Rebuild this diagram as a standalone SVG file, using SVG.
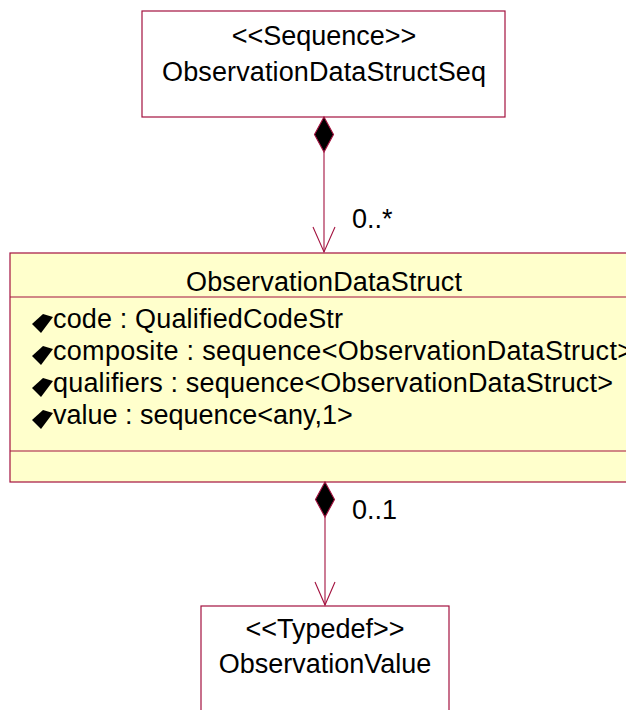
<svg xmlns="http://www.w3.org/2000/svg" width="626" height="710" viewBox="0 0 626 710">
<style>
.box{fill:#ffffff;stroke:#a3123f;stroke-width:1.2}
.cls{fill:#ffffcc;stroke:#a3123f;stroke-width:1.2}
.div{stroke:#a3123f;stroke-width:1.2}
text{font-family:"Liberation Sans",Arial,sans-serif;font-size:27px;fill:#000}
.c{text-anchor:middle}
.line{stroke:#a3123f;stroke-width:1.1;fill:none}
.dia{fill:#000;stroke:#a3123f;stroke-width:1.1}
.icon{fill:#000}
</style>
<rect width="626" height="710" fill="#ffffff"/>
<g id="ObservationDataStructSeq">
<rect class="box" x="142" y="11" width="363" height="106"/>
<text class="c" x="324" y="45">&lt;&lt;Sequence&gt;&gt;</text>
<text class="c" x="324" y="81" textLength="324" lengthAdjust="spacing">ObservationDataStructSeq</text>
</g>
<g id="ObservationDataStruct">
<rect class="cls" x="10" y="253" width="640" height="229"/>
<line class="div" x1="10" y1="297" x2="626" y2="297"/>
<line class="div" x1="10" y1="451" x2="626" y2="451"/>
<text class="c" x="324" y="291" textLength="276" lengthAdjust="spacing">ObservationDataStruct</text>
<polygon class="icon" points="32,324 43,314 53,317 41,333"/>
<text x="53" y="328" textLength="290" lengthAdjust="spacing">code : QualifiedCodeStr</text>
<polygon class="icon" points="32,356 43,346 53,349 41,365"/>
<text x="53" y="360" textLength="580" lengthAdjust="spacing">composite : sequence&lt;ObservationDataStruct&gt;</text>
<polygon class="icon" points="32,388 43,378 53,381 41,397"/>
<text x="53" y="392" textLength="560" lengthAdjust="spacing">qualifiers : sequence&lt;ObservationDataStruct&gt;</text>
<polygon class="icon" points="32,420 43,410 53,413 41,429"/>
<text x="53" y="424">value : sequence&lt;any,1&gt;</text>
</g>
<g id="ObservationValue">
<rect class="box" x="201" y="606" width="248" height="120"/>
<text class="c" x="325" y="638">&lt;&lt;Typedef&gt;&gt;</text>
<text class="c" x="325" y="673">ObservationValue</text>
</g>
<g id="connectors">
<line class="line" x1="324" y1="152" x2="324" y2="252"/>
<polygon class="dia" points="324,117 333.5,134.5 324,152 314.5,134.5"/>
<polyline class="line" points="313,227 324,252 335,227"/>
<text x="352" y="228">0..*</text>
<line class="line" x1="325" y1="517" x2="325" y2="605"/>
<polygon class="dia" points="325,482 334.5,499.5 325,517 315.5,499.5"/>
<polyline class="line" points="315,582 325,605 335,582"/>
<text x="352" y="519">0..1</text>
</g>
</svg>
